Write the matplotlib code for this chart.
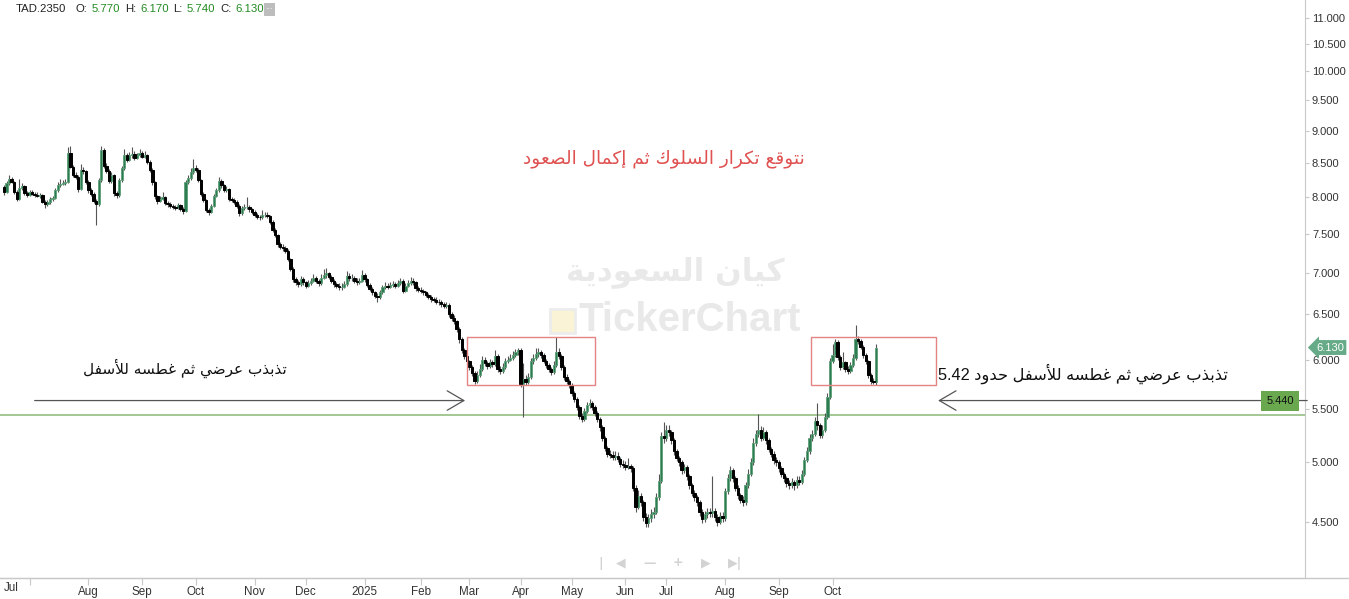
import numpy as np
import pandas as pd
import matplotlib
matplotlib.use('Agg')
import matplotlib.pyplot as plt
from matplotlib.patches import Rectangle
from matplotlib.ticker import FixedLocator, NullLocator, FuncFormatter
import matplotlib.transforms as mtransforms

# ---- data (daily candles, Tadawul Sun-Thu sessions) ----
symbol = 'TAD.2350'
last_ohlc = [('O', 5.770), ('H', 6.170), ('L', 5.740), ('C', 6.130)]
first_open = 8.15
closes = [
    8.08, 8.20, 8.26, 8.22, 8.08, 7.98, 8.14, 8.16, 8.06, 8.04,
    8.08, 8.05, 8.04, 8.02, 8.03, 7.94, 7.90, 7.93, 7.97, 7.99,
    8.10, 8.17, 8.19, 8.21, 8.22, 8.66, 8.44, 8.32, 8.30, 8.12,
    8.40, 8.38, 8.22, 8.10, 8.05, 7.95, 7.90, 8.25, 8.70, 8.45,
    8.38, 8.24, 8.32, 8.06, 8.03, 8.25, 8.42, 8.62, 8.55, 8.62,
    8.64, 8.58, 8.62, 8.66, 8.60, 8.62, 8.52, 8.40, 8.22, 8.02,
    7.95, 7.98, 8.00, 7.92, 7.90, 7.88, 7.87, 7.85, 7.89, 7.84,
    7.81, 8.22, 8.28, 8.36, 8.42, 8.40, 8.25, 8.05, 7.96, 7.82,
    7.80, 7.88, 8.02, 8.10, 8.24, 8.17, 8.10, 8.12, 7.98, 7.96,
    7.94, 7.88, 7.78, 7.85, 7.86, 7.87, 7.83, 7.80, 7.76, 7.73,
    7.72, 7.75, 7.76, 7.74, 7.66, 7.55, 7.48, 7.36, 7.33, 7.31,
    7.28, 7.17, 7.05, 6.92, 6.88, 6.86, 6.92, 6.88, 6.84, 6.87,
    6.90, 6.93, 6.90, 6.87, 6.94, 6.97, 6.99, 6.95, 6.90, 6.86,
    6.84, 6.82, 6.83, 6.86, 6.96, 6.93, 6.94, 6.90, 6.88, 6.90,
    6.97, 6.92, 6.85, 6.80, 6.76, 6.72, 6.70, 6.76, 6.82, 6.84,
    6.83, 6.85, 6.86, 6.84, 6.87, 6.90, 6.78, 6.84, 6.87, 6.90,
    6.88, 6.81, 6.79, 6.78, 6.76, 6.73, 6.71, 6.68, 6.67, 6.65,
    6.64, 6.62, 6.60, 6.61, 6.50, 6.46, 6.42, 6.34, 6.22, 6.10,
    6.04, 5.98, 5.92, 5.86, 5.78, 5.84, 5.90, 6.00, 5.96, 5.93,
    5.97, 5.95, 6.04, 5.90, 5.88, 5.92, 5.98, 6.00, 6.02, 6.05,
    6.08, 6.10, 5.75, 5.80, 5.77, 5.82, 5.98, 6.02, 6.06, 6.08,
    6.05, 5.99, 5.94, 5.90, 5.87, 5.94, 6.08, 6.04, 5.92, 5.82,
    5.78, 5.74, 5.66, 5.60, 5.52, 5.43, 5.40, 5.48, 5.54, 5.56,
    5.52, 5.46, 5.40, 5.32, 5.22, 5.13, 5.08, 5.07, 5.05, 5.06,
    5.03, 4.99, 4.98, 4.96, 4.97, 4.95, 4.78, 4.62, 4.71, 4.66,
    4.54, 4.49, 4.53, 4.56, 4.58, 4.70, 4.84, 5.24, 5.22, 5.30,
    5.28, 5.20, 5.10, 5.04, 5.00, 4.93, 4.96, 4.88, 4.80, 4.74,
    4.70, 4.66, 4.58, 4.52, 4.56, 4.58, 4.57, 4.59, 4.54, 4.50,
    4.55, 4.53, 4.75, 4.86, 4.93, 4.86, 4.78, 4.72, 4.68, 4.66,
    4.80, 4.90, 5.00, 5.18, 5.26, 5.30, 5.22, 5.28, 5.20, 5.12,
    5.08, 5.02, 5.00, 4.95, 4.90, 4.86, 4.82, 4.80, 4.83, 4.80,
    4.85, 4.83, 4.90, 5.02, 5.10, 5.22, 5.26, 5.38, 5.34, 5.25,
    5.30, 5.42, 5.62, 5.98, 6.05, 6.19, 6.03, 5.92, 5.97, 5.90,
    5.88, 5.94, 6.02, 6.22, 6.20, 6.14, 6.05, 5.98, 5.84, 5.78,
    5.77, 6.13,
]
highs = [
    8.18, 8.24, 8.32, 8.29, 8.24, 8.10, 8.26, 8.20, 8.18, 8.09,
    8.11, 8.10, 8.08, 8.07, 8.06, 8.05, 7.96, 7.96, 8.00, 8.02,
    8.13, 8.22, 8.26, 8.25, 8.27, 8.75, 8.76, 8.47, 8.36, 8.33,
    8.48, 8.44, 8.40, 8.25, 8.14, 8.08, 7.98, 8.28, 8.76, 8.73,
    8.50, 8.41, 8.36, 8.34, 8.09, 8.28, 8.46, 8.72, 8.66, 8.67,
    8.74, 8.68, 8.66, 8.72, 8.69, 8.68, 8.64, 8.55, 8.42, 8.24,
    8.04, 8.02, 8.08, 8.02, 7.95, 7.93, 7.91, 7.89, 7.92, 7.91,
    7.86, 8.25, 8.33, 8.42, 8.56, 8.47, 8.42, 8.27, 8.08, 7.98,
    7.85, 7.91, 8.05, 8.14, 8.30, 8.27, 8.19, 8.16, 8.14, 8.01,
    7.99, 7.96, 7.90, 7.88, 7.90, 8.00, 7.89, 7.85, 7.82, 7.78,
    7.76, 7.82, 7.80, 7.79, 7.76, 7.68, 7.57, 7.50, 7.39, 7.36,
    7.34, 7.30, 7.19, 7.07, 6.95, 6.91, 6.96, 6.95, 6.90, 6.91,
    6.94, 6.98, 6.96, 6.92, 6.98, 7.05, 7.06, 7.01, 6.97, 6.92,
    6.89, 6.87, 6.87, 6.90, 7.02, 6.99, 6.98, 6.96, 6.93, 6.94,
    7.03, 6.99, 6.94, 6.87, 6.82, 6.78, 6.75, 6.79, 6.85, 6.88,
    6.87, 6.89, 6.90, 6.89, 6.91, 6.93, 6.92, 6.87, 6.91, 6.95,
    6.93, 6.90, 6.84, 6.82, 6.80, 6.78, 6.75, 6.73, 6.71, 6.70,
    6.68, 6.67, 6.64, 6.65, 6.63, 6.53, 6.49, 6.44, 6.36, 6.24,
    6.13, 6.07, 6.00, 5.94, 5.88, 5.88, 5.95, 6.04, 6.03, 5.99,
    6.01, 6.00, 6.10, 6.06, 5.93, 5.96, 6.02, 6.04, 6.06, 6.09,
    6.11, 6.13, 6.12, 5.96, 5.84, 5.86, 6.02, 6.06, 6.12, 6.12,
    6.10, 6.07, 6.01, 5.96, 5.92, 5.98, 6.24, 6.12, 6.06, 5.94,
    5.85, 5.80, 5.76, 5.68, 5.62, 5.54, 5.46, 5.51, 5.57, 5.60,
    5.58, 5.54, 5.48, 5.42, 5.34, 5.24, 5.15, 5.11, 5.10, 5.10,
    5.09, 5.05, 5.02, 5.01, 5.04, 4.99, 4.97, 4.80, 4.76, 4.74,
    4.68, 4.57, 4.56, 4.60, 4.62, 4.74, 4.90, 5.28, 5.37, 5.34,
    5.34, 5.30, 5.22, 5.12, 5.06, 5.02, 4.99, 4.98, 4.90, 4.82,
    4.76, 4.72, 4.68, 4.60, 4.59, 4.61, 4.61, 4.88, 4.61, 4.56,
    4.58, 4.58, 4.78, 4.90, 4.97, 4.95, 4.88, 4.80, 4.74, 4.71,
    4.83, 4.94, 5.04, 5.22, 5.30, 5.45, 5.33, 5.32, 5.30, 5.22,
    5.14, 5.10, 5.05, 5.02, 4.97, 4.92, 4.88, 4.85, 4.86, 4.85,
    4.88, 4.88, 4.93, 5.05, 5.14, 5.26, 5.30, 5.42, 5.56, 5.36,
    5.34, 5.46, 5.66, 6.02, 6.17, 6.22, 6.21, 6.05, 6.08, 5.99,
    5.93, 5.97, 6.06, 6.38, 6.26, 6.22, 6.16, 6.07, 6.00, 5.86,
    5.81, 6.17,
]
lows = [
    8.04, 8.06, 8.18, 8.20, 8.05, 7.95, 7.96, 8.11, 8.04, 8.01,
    8.02, 8.03, 8.01, 8.00, 7.99, 7.92, 7.85, 7.88, 7.91, 7.95,
    7.97, 8.08, 8.15, 8.17, 8.18, 8.20, 8.42, 8.29, 8.26, 8.08,
    8.10, 8.34, 8.19, 8.06, 8.02, 7.92, 7.62, 7.88, 8.22, 8.42,
    8.35, 8.20, 8.21, 8.02, 7.99, 8.01, 8.22, 8.40, 8.52, 8.53,
    8.58, 8.55, 8.56, 8.60, 8.57, 8.57, 8.49, 8.37, 8.18, 7.98,
    7.91, 7.93, 7.96, 7.89, 7.87, 7.85, 7.84, 7.82, 7.83, 7.81,
    7.77, 7.79, 8.19, 8.25, 8.34, 8.36, 8.22, 8.02, 7.93, 7.79,
    7.76, 7.78, 7.86, 8.00, 8.08, 8.14, 8.07, 8.07, 7.95, 7.93,
    7.91, 7.85, 7.74, 7.76, 7.82, 7.83, 7.80, 7.77, 7.73, 7.70,
    7.69, 7.70, 7.72, 7.71, 7.63, 7.52, 7.45, 7.33, 7.30, 7.28,
    7.25, 7.14, 7.02, 6.89, 6.85, 6.82, 6.84, 6.85, 6.81, 6.82,
    6.85, 6.88, 6.87, 6.84, 6.85, 6.92, 6.94, 6.92, 6.87, 6.83,
    6.81, 6.79, 6.79, 6.81, 6.84, 6.90, 6.90, 6.87, 6.85, 6.86,
    6.88, 6.89, 6.82, 6.77, 6.73, 6.69, 6.65, 6.68, 6.74, 6.80,
    6.80, 6.81, 6.82, 6.81, 6.82, 6.85, 6.75, 6.76, 6.82, 6.85,
    6.85, 6.78, 6.76, 6.75, 6.73, 6.70, 6.68, 6.65, 6.64, 6.62,
    6.61, 6.59, 6.57, 6.57, 6.47, 6.43, 6.39, 6.30, 6.18, 6.07,
    6.01, 5.95, 5.89, 5.83, 5.75, 5.76, 5.82, 5.88, 5.93, 5.90,
    5.91, 5.92, 5.93, 5.87, 5.85, 5.86, 5.90, 5.96, 5.98, 6.00,
    6.03, 6.05, 5.72, 5.42, 5.74, 5.75, 5.80, 5.95, 6.00, 6.03,
    6.02, 5.96, 5.91, 5.87, 5.84, 5.85, 5.92, 6.01, 5.89, 5.79,
    5.75, 5.71, 5.63, 5.57, 5.49, 5.40, 5.37, 5.38, 5.46, 5.51,
    5.49, 5.43, 5.37, 5.29, 5.19, 5.10, 5.05, 5.04, 5.02, 5.02,
    5.00, 4.96, 4.95, 4.93, 4.94, 4.92, 4.75, 4.58, 4.60, 4.63,
    4.51, 4.46, 4.46, 4.50, 4.53, 4.56, 4.68, 4.82, 5.18, 5.19,
    5.24, 5.17, 5.07, 5.01, 4.97, 4.90, 4.91, 4.85, 4.77, 4.71,
    4.67, 4.63, 4.55, 4.49, 4.50, 4.53, 4.54, 4.54, 4.51, 4.47,
    4.48, 4.50, 4.51, 4.73, 4.84, 4.83, 4.75, 4.69, 4.65, 4.63,
    4.64, 4.78, 4.88, 4.98, 5.15, 5.23, 5.19, 5.20, 5.17, 5.09,
    5.05, 4.99, 4.97, 4.92, 4.87, 4.83, 4.79, 4.77, 4.78, 4.76,
    4.78, 4.80, 4.81, 4.88, 5.00, 5.08, 5.19, 5.24, 5.30, 5.22,
    5.22, 5.28, 5.40, 5.60, 5.96, 6.03, 6.00, 5.89, 5.90, 5.87,
    5.85, 5.86, 5.92, 6.00, 6.17, 6.11, 6.02, 5.95, 5.81, 5.75,
    5.75, 5.74,
]
last_date = '2025-10-26'
holidays = ['2024-06-13', '2024-06-16', '2024-06-17', '2024-06-18', '2024-06-19',
            '2024-06-20', '2024-09-23', '2025-02-23', '2025-03-30', '2025-03-31',
            '2025-04-01', '2025-04-02', '2025-06-05', '2025-06-08', '2025-06-09',
            '2025-06-10', '2025-06-11', '2025-06-12', '2025-09-23']
price_ticks = [4.5, 5.0, 5.5, 6.0, 6.5, 7.0, 7.5, 8.0, 8.5, 9.0, 9.5, 10.0, 10.5, 11.0]
support_level = 5.44
# drawn boxes: (first candle, last candle, low, high)
boxes = [(181.1, 231.1, 5.74, 6.24), (315.6, 364.5, 5.74, 6.24)]

note_top = 'نتوقع تكرار السلوك ثم إكمال الصعود'
note_left = 'تذبذب عرضي ثم غطسه للأسفل'
note_right = 'تذبذب عرضي ثم غطسه للأسفل حدود 5.42'
watermark_ar = 'كيان السعودية'
watermark_en = 'TickerChart'

# ---- tiny arabic shaper (presentation forms + visual order) ----
FORMS = {
    'ا': ('\uFE8D', '\uFE8E', None, None), 'أ': ('\uFE83', '\uFE84', None, None),
    'إ': ('\uFE87', '\uFE88', None, None), 'آ': ('\uFE81', '\uFE82', None, None),
    'ب': ('\uFE8F', '\uFE90', '\uFE91', '\uFE92'), 'ة': ('\uFE93', '\uFE94', None, None),
    'ت': ('\uFE95', '\uFE96', '\uFE97', '\uFE98'), 'ث': ('\uFE99', '\uFE9A', '\uFE9B', '\uFE9C'),
    'ج': ('\uFE9D', '\uFE9E', '\uFE9F', '\uFEA0'), 'ح': ('\uFEA1', '\uFEA2', '\uFEA3', '\uFEA4'),
    'خ': ('\uFEA5', '\uFEA6', '\uFEA7', '\uFEA8'), 'د': ('\uFEA9', '\uFEAA', None, None),
    'ذ': ('\uFEAB', '\uFEAC', None, None), 'ر': ('\uFEAD', '\uFEAE', None, None),
    'ز': ('\uFEAF', '\uFEB0', None, None), 'س': ('\uFEB1', '\uFEB2', '\uFEB3', '\uFEB4'),
    'ش': ('\uFEB5', '\uFEB6', '\uFEB7', '\uFEB8'), 'ص': ('\uFEB9', '\uFEBA', '\uFEBB', '\uFEBC'),
    'ض': ('\uFEBD', '\uFEBE', '\uFEBF', '\uFEC0'), 'ط': ('\uFEC1', '\uFEC2', '\uFEC3', '\uFEC4'),
    'ظ': ('\uFEC5', '\uFEC6', '\uFEC7', '\uFEC8'), 'ع': ('\uFEC9', '\uFECA', '\uFECB', '\uFECC'),
    'غ': ('\uFECD', '\uFECE', '\uFECF', '\uFED0'), 'ف': ('\uFED1', '\uFED2', '\uFED3', '\uFED4'),
    'ق': ('\uFED5', '\uFED6', '\uFED7', '\uFED8'), 'ك': ('\uFED9', '\uFEDA', '\uFEDB', '\uFEDC'),
    'ل': ('\uFEDD', '\uFEDE', '\uFEDF', '\uFEE0'), 'م': ('\uFEE1', '\uFEE2', '\uFEE3', '\uFEE4'),
    'ن': ('\uFEE5', '\uFEE6', '\uFEE7', '\uFEE8'), 'ه': ('\uFEE9', '\uFEEA', '\uFEEB', '\uFEEC'),
    'و': ('\uFEED', '\uFEEE', None, None), 'ي': ('\uFEF1', '\uFEF2', '\uFEF3', '\uFEF4'),
}
LAM_ALEF = {'ا': ('\uFEFB', '\uFEFC'), 'أ': ('\uFEF7', '\uFEF8'),
            'إ': ('\uFEF9', '\uFEFA'), 'آ': ('\uFEF5', '\uFEF6')}


def ar(text):
    def dual(ch):
        return ch in FORMS and FORMS[ch][2] is not None
    out = []
    i = 0
    while i < len(text):
        ch = text[i]
        if ch not in FORMS:
            out.append(ch)
            i += 1
            continue
        prev_links = i > 0 and dual(text[i - 1])
        if ch == 'ل' and i + 1 < len(text) and text[i + 1] in LAM_ALEF:
            iso, fin = LAM_ALEF[text[i + 1]]
            out.append(fin if prev_links else iso)
            i += 2
            continue
        next_links = dual(ch) and i + 1 < len(text) and text[i + 1] in FORMS
        iso, fin, ini, med = FORMS[ch]
        if prev_links and next_links:
            out.append(med)
        elif prev_links:
            out.append(fin)
        elif next_links:
            out.append(ini)
        else:
            out.append(iso)
        i += 1
    # visual order: right-to-left, keep latin/digit runs as they are
    runs = []
    for ch in out:
        ltr = ch.isascii() and (ch.isalnum() or ch == '.')
        if runs and runs[-1][0] == ltr:
            runs[-1][1].append(ch)
        else:
            runs.append((ltr, [ch]))
    vis = ''
    for ltr, chars in reversed(runs):
        vis += ''.join(chars) if ltr else ''.join(reversed(chars))
    return vis


# ---- figure ----
W, H = 1349, 599
fig = plt.figure(figsize=(W / 100, H / 100), dpi=100)
fig.patch.set_facecolor('white')
ax_w, ax_bottom = 1305, 578
ax = fig.add_axes([0, (H - ax_bottom) / H, ax_w / W, ax_bottom / H])

dates = pd.bdate_range(end=last_date, periods=len(closes), freq='C',
                       weekmask='Sun Mon Tue Wed Thu', holidays=holidays)
x = np.arange(len(closes))
c = np.array(closes)
o = np.array([first_open] + closes[:-1])  # each session opens at the prior close
hi = np.maximum(np.array(highs), np.maximum(o, c))
lo = np.minimum(np.array(lows), np.minimum(o, c))
up = c >= o

ax.vlines(x, lo, hi, color='#555555', lw=0.8, zorder=2)
ax.bar(x[up], (c - o)[up], bottom=o[up], width=0.85, color='#2e7d52',
       edgecolor='#5d9f78', lw=0.6, zorder=3)
ax.bar(x[~up], (o - c)[~up], bottom=c[~up], width=0.95, color='black',
       edgecolor='black', lw=0.7, zorder=3)

step = (876 - 4) / (len(closes) - 1)
x0 = -4 / step
ax.set_xlim(x0, x0 + ax_w / step)
ax.set_yscale('log')
ax.set_ylim(4.074, 11.35)

# support line and its tag
ax.axhline(support_level, color='#9cc38b', lw=1.3, zorder=1)
ax.text(1280 / ax_w, 1 - 401 / ax_bottom, f'{support_level:.3f}', transform=ax.transAxes,
        ha='center', va='center', fontsize=8, family='Liberation Sans', color='#111111',
        bbox=dict(boxstyle='square,pad=0.45', fc='#6aa84f', ec='none'), zorder=6)

# boxes
for x_a, x_b, y_a, y_b in boxes:
    ax.add_patch(Rectangle((x_a, y_a), x_b - x_a, y_b - y_a, fill=False,
                           ec='#e48383', lw=1.0, zorder=4))

# arrows
arrow_y = 5.58
ax.annotate('', xy=(181.4, arrow_y), xytext=(10.9, arrow_y),
            arrowprops=dict(arrowstyle='->,head_length=0.6,head_width=0.35',
                            mutation_scale=20, color='#555555', lw=0.9))
ax.annotate('', xy=(364.2, arrow_y), xytext=(510.7, arrow_y), annotation_clip=False,
            arrowprops=dict(arrowstyle='->,head_length=0.6,head_width=0.35',
                            mutation_scale=20, color='#555555', lw=0.9))

# notes
ax.text(258, 8.57, ar(note_top), ha='center', va='center', fontsize=13.3,
        family='DejaVu Sans', color='#e05252', zorder=6)
ax.text(70.8, 5.905, ar(note_left), ha='center', va='center', fontsize=11,
        family='DejaVu Sans', color='#111111', zorder=6)
ax.text(365.2, 5.85, ar(note_right), ha='left', va='center', fontsize=11.7,
        family=['Liberation Sans', 'DejaVu Sans'], color='#111111', zorder=6)

# watermark
ax.text(675 / ax_w, 1 - 272 / ax_bottom, ar(watermark_ar), transform=ax.transAxes,
        ha='center', va='center', fontsize=22.5, fontweight='bold', family='DejaVu Sans',
        color='#e9e9e9', zorder=0)
ax.text(690 / ax_w, 1 - 320 / ax_bottom, watermark_en, transform=ax.transAxes,
        ha='center', va='center', fontsize=29, fontweight='bold', family='Liberation Sans',
        color='#e9e9e9', zorder=0)
ax.add_patch(Rectangle((550 / ax_w, 1 - 333 / ax_bottom), 25 / ax_w, 24 / ax_bottom,
                       transform=ax.transAxes, fc='#fbf3d6', ec='#ececec', lw=2, zorder=0))

# last price tag
ax.text(1.0 + 11 / ax_w, c[-1], f'{c[-1]:.3f}',
        transform=mtransforms.blended_transform_factory(ax.transAxes, ax.transData),
        ha='left', va='center', fontsize=8, family='Liberation Sans', color='white',
        bbox=dict(boxstyle='larrow,pad=0.22', fc='#66aa88', ec='none'), clip_on=False, zorder=7)

# axes styling
for side in ['left', 'top']:
    ax.spines[side].set_visible(False)
ax.spines['right'].set_color('#c8c8c8')
ax.spines['bottom'].set_color('#c8c8c8')
ax.yaxis.tick_right()
ax.yaxis.set_major_locator(FixedLocator(price_ticks))
ax.yaxis.set_minor_locator(NullLocator())
ax.yaxis.set_major_formatter(FuncFormatter(lambda v, p: f'{v:.3f}'))
ax.tick_params(axis='y', length=3, color='#c8c8c8', labelsize=8, labelcolor='#333333', pad=2)

month_pos = [i for i in range(1, len(dates)) if dates[i].month != dates[i - 1].month]
month_lab = ['' if dates[i].month == 7 and dates[i].year == 2024 else
             (str(dates[i].year) if dates[i].month == 1 else dates[i].strftime('%b'))
             for i in month_pos]
ax.set_xticks(month_pos)
ax.set_xticklabels(month_lab)
ax.tick_params(axis='x', length=5, color='#c8c8c8', labelsize=8.4, labelcolor='#333333', pad=1)
for lab in ax.get_xticklabels() + ax.get_yticklabels():
    lab.set_family('Liberation Sans')
fig.text(11 / W, 1 - 588 / H, 'Jul', ha='center', va='center', fontsize=8.4,
         family='Liberation Sans', color='#333333')
fig.add_artist(plt.Line2D([0, 1], [(H - ax_bottom) / H] * 2, color='#c8c8c8', lw=1))

# header
hdr_y = 1 - 9.5 / H
fig.text(16 / W, hdr_y, symbol, ha='left', va='center', fontsize=8.2,
         family='Liberation Sans', color='#222222')
for (lbl, val), lx, vx in zip(last_ohlc, [75, 125, 173, 220], [92, 140, 187, 235]):
    fig.text(lx / W, hdr_y, lbl + ':', ha='left', va='center', fontsize=8.2,
             family='Liberation Sans', color='#222222')
    fig.text(vx / W, hdr_y, f'{val:.3f}', ha='left', va='center', fontsize=8.2,
             family='Liberation Sans', color='#228b22')
fig.text(269.5 / W, hdr_y, '···', ha='center', va='center', fontsize=6, color='white',
         bbox=dict(boxstyle='square,pad=0.2', fc='#bdbdbd', ec='none'))

# navigation controls
nav = [(601, '|'), (621, '◀'), (650, '—'), (678, '+'), (706, '▶'), (735, '▶|')]
for nx, glyph in nav:
    fig.text(nx / W, 1 - 563 / H, glyph, ha='center', va='center', fontsize=9,
             family='DejaVu Sans', color='#d3d3d3', fontweight='bold')

fig.savefig('out.png', dpi=100, facecolor='white')
